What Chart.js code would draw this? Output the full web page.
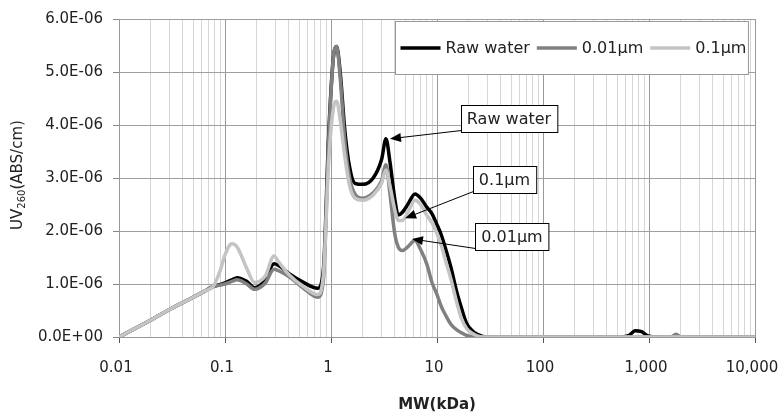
<!DOCTYPE html>
<html>
<head>
<meta charset="utf-8">
<script src="https://cdn.jsdelivr.net/npm/chart.js@4.4.1/dist/chart.umd.min.js"></script>
<style>
  html, body { margin: 0; padding: 0; background: #fff; }
  #wrap { width: 780px; height: 416px; }
</style>
</head>
<body>
<div id="wrap"><canvas id="uvChart" width="780" height="416"></canvas></div>
<script>
// molecular weight (kDa) sample points
var mw = [0.01, 0.02, 0.03, 0.05, 0.065, 0.077, 0.09, 0.1, 0.116, 0.13, 0.16, 0.19, 0.24, 0.29, 0.32, 0.4, 0.55, 0.75, 0.85,
          0.95, 1.05, 1.13, 1.22, 1.35, 1.5, 1.68, 2.0, 2.5, 3.0, 3.3, 3.6, 4.0, 4.3, 4.7,
          5.3, 6.2, 7.0, 8.0, 9.0, 10, 11, 12, 13.5, 15.5, 17, 19, 21.5, 24, 27,
          30, 100, 550, 650, 740, 850, 980, 1200, 1600, 1800, 2000, 3000, 10000];

// UV260 in units of 1E-06 ABS/cm
var rawWater = [0, 0.32, 0.52, 0.75, 0.87, 0.95, 0.99, 1.02, 1.08, 1.12, 1.05, 0.93, 1.08, 1.38, 1.35, 1.2, 1.03, 0.92, 1.3,
                3.8, 5.25, 5.48, 5.0, 3.9, 3.2, 2.9, 2.88, 3.0, 3.35, 3.74, 3.3, 2.6, 2.3, 2.35,
                2.5, 2.7, 2.62, 2.45, 2.32, 2.12, 1.92, 1.68, 1.32, 0.82, 0.55, 0.26, 0.12, 0.05, 0.01,
                0, 0, 0, 0.03, 0.12, 0.1, 0.02, 0, 0, 0, 0, 0, 0];
var mf001 = [0, 0.32, 0.52, 0.75, 0.87, 0.95, 0.98, 1.0, 1.05, 1.08, 1.0, 0.9, 1.02, 1.28, 1.25, 1.14, 0.92, 0.75, 1.1,
             3.7, 5.25, 5.48, 4.9, 3.7, 3.0, 2.7, 2.62, 2.72, 2.95, 3.25, 2.7, 1.94, 1.7, 1.63,
             1.7, 1.82, 1.65, 1.38, 1.02, 0.8, 0.57, 0.42, 0.24, 0.13, 0.08, 0.03, 0.01, 0, 0,
             0, 0, 0, 0, 0, 0, 0, 0, 0, 0.05, 0, 0, 0];
var mf01 = [0, 0.32, 0.52, 0.75, 0.87, 0.95, 1.25, 1.55, 1.76, 1.7, 1.3, 1.03, 1.15, 1.53, 1.42, 1.18, 0.95, 0.8, 1.2,
            3.3, 4.3, 4.45, 4.1, 3.4, 2.85, 2.62, 2.58, 2.68, 2.9, 3.15, 2.85, 2.4, 2.2, 2.2,
            2.35, 2.58, 2.5, 2.3, 2.15, 1.95, 1.72, 1.45, 1.1, 0.62, 0.35, 0.16, 0.07, 0.02, 0,
            0, 0, 0, 0, 0, 0, 0, 0, 0, 0, 0, 0, 0];

var seriesNames = ["Raw water", "0.01\u03bcm", "0.1\u03bcm"];
var seriesColors = ["#000000", "#808080", "#c4c4c4"];

var xDecades = [0.01, 0.1, 1, 10, 100, 1000, 10000];
var yTicks = [0, 1, 2, 3, 4, 5, 6];

// callouts: label, arrow tip (kDa, 1E-06) and box centre (kDa, 1E-06)
var calloutText = ["Raw water", "0.1\u03bcm", "0.01\u03bcm"];
var calloutTip = [[3.6, 3.74], [5.0, 2.24], [5.8, 1.85]];
var calloutBox = [[47.8, 4.12], [43.3, 2.97], [51, 1.89]];

var E6 = 1e-6;

function toPoints(vals) {
    var pts = [];
    for (var i = 0; i < mw.length; i++) {
        pts.push({x: mw[i], y: vals[i] * E6});
    }
    return pts;
}

function isDecade(v) {
    var l = Math.log10(v);
    return Math.abs(l - Math.round(l)) < 1e-9;
}

function sciLabel(v) {
    var s = Number(v).toExponential(1).split("e");
    var ex = parseInt(s[1], 10);
    var sign = ex < 0 ? "-" : "+";
    ex = Math.abs(ex);
    return s[0] + "E" + sign + (ex < 10 ? "0" + ex : ex);
}

function mwLabel(v) {
    v = Number(v.toPrecision(6));
    if (v >= 1) return v.toLocaleString("en-US");
    return String(v);
}

var FONT = "DejaVu Sans";

function drawArrow(ctx, x1, y1, x2, y2) {
    var ang = Math.atan2(y2 - y1, x2 - x1);
    var len = 11, hw = 4.5;
    ctx.beginPath();
    ctx.moveTo(x1, y1);
    ctx.lineTo(x2 - Math.cos(ang) * len * 0.8, y2 - Math.sin(ang) * len * 0.8);
    ctx.stroke();
    ctx.beginPath();
    ctx.moveTo(x2, y2);
    ctx.lineTo(x2 - Math.cos(ang) * len - Math.sin(ang) * hw, y2 - Math.sin(ang) * len + Math.cos(ang) * hw);
    ctx.lineTo(x2 - Math.cos(ang) * len + Math.sin(ang) * hw, y2 - Math.sin(ang) * len - Math.cos(ang) * hw);
    ctx.closePath();
    ctx.fill();
}

var extrasPlugin = {
    id: "extras",
    afterDatasetsDraw: function(chart) {
        var ctx = chart.ctx;
        var xs = chart.scales.x, ys = chart.scales.y;
        ctx.save();
        ctx.font = "16px '" + FONT + "'";
        ctx.textBaseline = "middle";
        ctx.textAlign = "center";
        for (var i = 0; i < calloutText.length; i++) {
            var tx = xs.getPixelForValue(calloutTip[i][0]);
            var ty = ys.getPixelForValue(calloutTip[i][1] * E6);
            var cx = xs.getPixelForValue(calloutBox[i][0]);
            var cy = ys.getPixelForValue(calloutBox[i][1] * E6);
            var w = ctx.measureText(calloutText[i]).width + 12;
            var h = 27;
            var left = Math.round(cx - w / 2) + 0.5, top = Math.round(cy - h / 2) + 0.5;
            ctx.strokeStyle = "#000";
            ctx.fillStyle = "#000";
            ctx.lineWidth = 1;
            drawArrow(ctx, left, top + h - 2, tx, ty);
            ctx.fillStyle = "#fff";
            ctx.fillRect(left, top, w, h);
            ctx.strokeRect(left, top, w, h);
            ctx.fillStyle = "#222";
            ctx.fillText(calloutText[i], cx, cy + 1);
        }
        ctx.restore();
    },
    afterDraw: function(chart) {
        var ctx = chart.ctx;
        var area = chart.chartArea;
        ctx.save();

        // legend box
        ctx.font = "16px '" + FONT + "'";
        var lineLen = 40, gap1 = 5, gap2 = 7, padL = 5, padR = 2;
        var total = padL + padR;
        for (var i = 0; i < seriesNames.length; i++) {
            total += lineLen + gap1 + ctx.measureText(seriesNames[i]).width;
            if (i < seriesNames.length - 1) total += gap2;
        }
        var bh = 53;
        var bx = Math.round(area.right - 7 - total) + 0.5;
        var by = Math.round(area.top + 2) + 0.5;
        ctx.fillStyle = "#fff";
        ctx.fillRect(bx, by, total, bh);
        ctx.strokeStyle = "#999";
        ctx.lineWidth = 1;
        ctx.strokeRect(bx, by, total, bh);
        var cy = by + bh / 2;
        var x = bx + padL;
        ctx.textBaseline = "middle";
        ctx.textAlign = "left";
        for (var j = 0; j < seriesNames.length; j++) {
            ctx.strokeStyle = seriesColors[j];
            ctx.lineWidth = 3.5;
            ctx.beginPath();
            ctx.moveTo(x, cy);
            ctx.lineTo(x + lineLen, cy);
            ctx.stroke();
            x += lineLen + gap1;
            ctx.fillStyle = "#222";
            ctx.fillText(seriesNames[j], x, cy + 1);
            x += ctx.measureText(seriesNames[j]).width + gap2;
        }

        // y axis title with subscript
        var parts = [["UV", 15, 0], ["260", 10, 4], ["(ABS/cm)", 15, 0]];
        var tw = 0;
        for (var k = 0; k < parts.length; k++) {
            ctx.font = parts[k][1] + "px '" + FONT + "'";
            tw += ctx.measureText(parts[k][0]).width;
        }
        ctx.translate(18, (area.top + area.bottom) / 2 - 3);
        ctx.rotate(-Math.PI / 2);
        ctx.fillStyle = "#222";
        var px = -tw / 2;
        for (var m = 0; m < parts.length; m++) {
            ctx.font = parts[m][1] + "px '" + FONT + "'";
            ctx.fillText(parts[m][0], px, parts[m][2]);
            px += ctx.measureText(parts[m][0]).width;
        }
        ctx.restore();
    }
};

Chart.defaults.font.family = FONT;
Chart.defaults.font.size = 15;
Chart.defaults.color = "#222";

var datasets = [
    {label: seriesNames[0], data: toPoints(rawWater), borderColor: seriesColors[0], order: 3},
    {label: seriesNames[1], data: toPoints(mf001), borderColor: seriesColors[1], order: 2},
    {label: seriesNames[2], data: toPoints(mf01), borderColor: seriesColors[2], order: 1}
];
datasets.forEach(function(d) {
    d.borderWidth = 3.5;
    d.pointRadius = 0;
    d.fill = false;
    d.cubicInterpolationMode = "monotone";
});

var uvChart = new Chart(document.getElementById("uvChart"), {
    type: "line",
    data: {datasets: datasets},
    plugins: [extrasPlugin],
    options: {
        responsive: false,
        animation: false,
        layout: {padding: {left: 0, right: 25, top: 16, bottom: 0}},
        plugins: {legend: {display: false}, tooltip: {enabled: false}},
        scales: {
            x: {
                type: "logarithmic",
                min: 0.01,
                max: 10000,
                afterBuildTicks: function(scale) {
                    var t = [];
                    for (var i = 0; i < xDecades.length; i++) {
                        t.push({value: xDecades[i], major: true});
                        if (i < xDecades.length - 1) {
                            for (var s = 2; s <= 9; s++) {
                                t.push({value: Number((xDecades[i] * s).toPrecision(6)), major: false});
                            }
                        }
                    }
                    scale.ticks = t;
                },
                afterFit: function(scale) {
                    scale.height = 79;
                    scale.paddingLeft = 0;
                    scale.paddingRight = 0;
                },
                ticks: {
                    autoSkip: false,
                    maxRotation: 0,
                    padding: 16,
                    labelOffset: -3,
                    callback: function(value) { return isDecade(value) ? mwLabel(value) : ""; }
                },
                grid: {
                    color: function(c) { return c.tick && isDecade(c.tick.value) ? "#999999" : "#d6d6d6"; },
                    tickColor: function(c) { return c.tick && isDecade(c.tick.value) ? "#555555" : "rgba(0,0,0,0)"; },
                    tickLength: 6
                },
                border: {color: "#999999"},
                title: {
                    display: true,
                    text: "MW(kDa)",
                    font: {size: 15, weight: "bold"},
                    padding: {top: 0, bottom: 2}
                }
            },
            y: {
                min: 0,
                max: 6 * E6,
                afterBuildTicks: function(scale) {
                    scale.ticks = yTicks.map(function(v) { return {value: v * E6}; });
                },
                afterFit: function(scale) { scale.width = 119; },
                ticks: {
                    padding: 10,
                    callback: function(value) { return sciLabel(value); }
                },
                grid: {color: "#a0a0a0", tickColor: "#888888", tickLength: 6},
                border: {color: "#999999"}
            }
        }
    }
});
</script>
</body>
</html>
